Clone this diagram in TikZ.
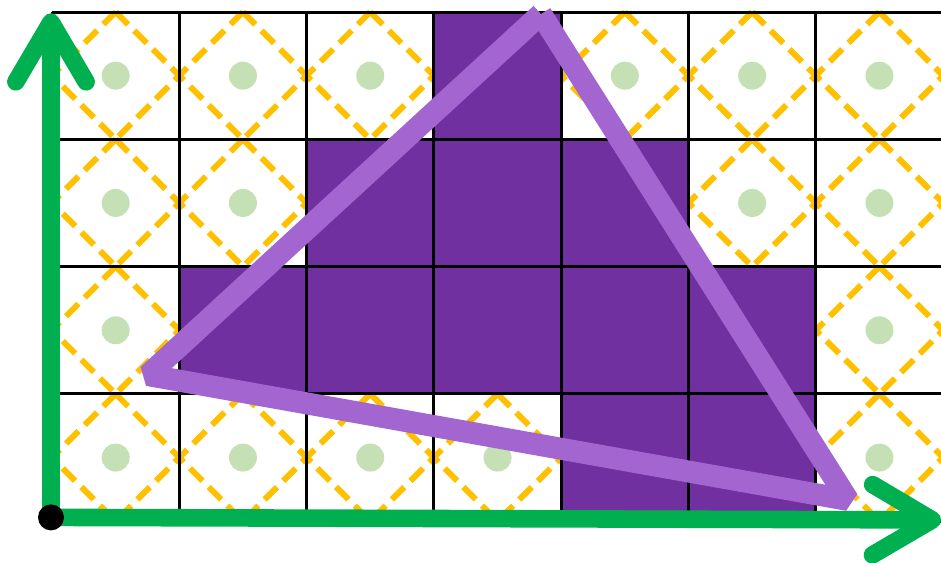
\documentclass[tikz,border=0pt]{standalone}
\usetikzlibrary{arrows.meta}
\definecolor{axisgreen}{HTML}{00B050}
\definecolor{probeyellow}{HTML}{FFC000}
\definecolor{samplegreen}{HTML}{C5E0B4}
\definecolor{pixpurple}{HTML}{7030A0}
\definecolor{edgepurple}{HTML}{A366D1}

\begin{document}
\begin{tikzpicture}[
            x=2.546cm,
            y=-2.546cm,
            cell/.style={draw=black, line width=1.7pt, step=2.546cm},
            hit/.style={fill=pixpurple},
            probe/.style={draw=probeyellow, line width=3.4pt, dash pattern=on 10pt off 5pt},
            sample/.style={circle, fill=samplegreen, inner sep=0pt, minimum size=0.56cm},
            origin/.style={circle, fill=black, inner sep=0pt, minimum size=0.52cm},
            axis/.style={draw=axisgreen, line width=10pt, -{Straight Barb[length=34pt, width=40pt, round]}},
            edge/.style={draw=edgepurple, line width=12.5pt, line join=bevel},
          ]
          \useasboundingbox (-0.4085,-0.0943) rectangle (6.9835,4.3205);
          \foreach \c/\r in {0/0,1/0,2/0,4/0,5/0,6/0,0/1,1/1,5/1,6/1,0/2,6/2,0/3,1/3,2/3,3/3,6/3} {
            \draw[probe] (\c+0.5,\r) -- (\c+1,\r+0.5) -- (\c+0.5,\r+1) -- (\c,\r+0.5) -- cycle;
            \node[sample] (s\c\r) at (\c+0.5,\r+0.5) {};
          }
          \foreach \c/\r in {3/0,2/1,3/1,4/1,1/2,2/2,3/2,4/2,5/2,4/3,5/3} {
            \fill[hit] (\c,\r) rectangle (\c+1,\r+1);
          }
          \draw[cell] (0,0) grid (7,4);
          \coordinate (o) at (-0.008,3.97);
          \coordinate (ytip) at (-0.008,0.01);
          \coordinate (xtip) at (6.984,3.99);
          \draw[axis] (o) -- (ytip);
          \draw[axis] (o) -- (xtip);
          \node[origin] (o0) at (o) {};
          \coordinate (apex) at (3.841,0.016);
          \coordinate (left) at (0.754,2.852);
          \coordinate (right) at (6.253,3.833);
          \draw[edge] (apex) -- (left) -- (right) -- (apex);
        \end{tikzpicture}
\end{document}
